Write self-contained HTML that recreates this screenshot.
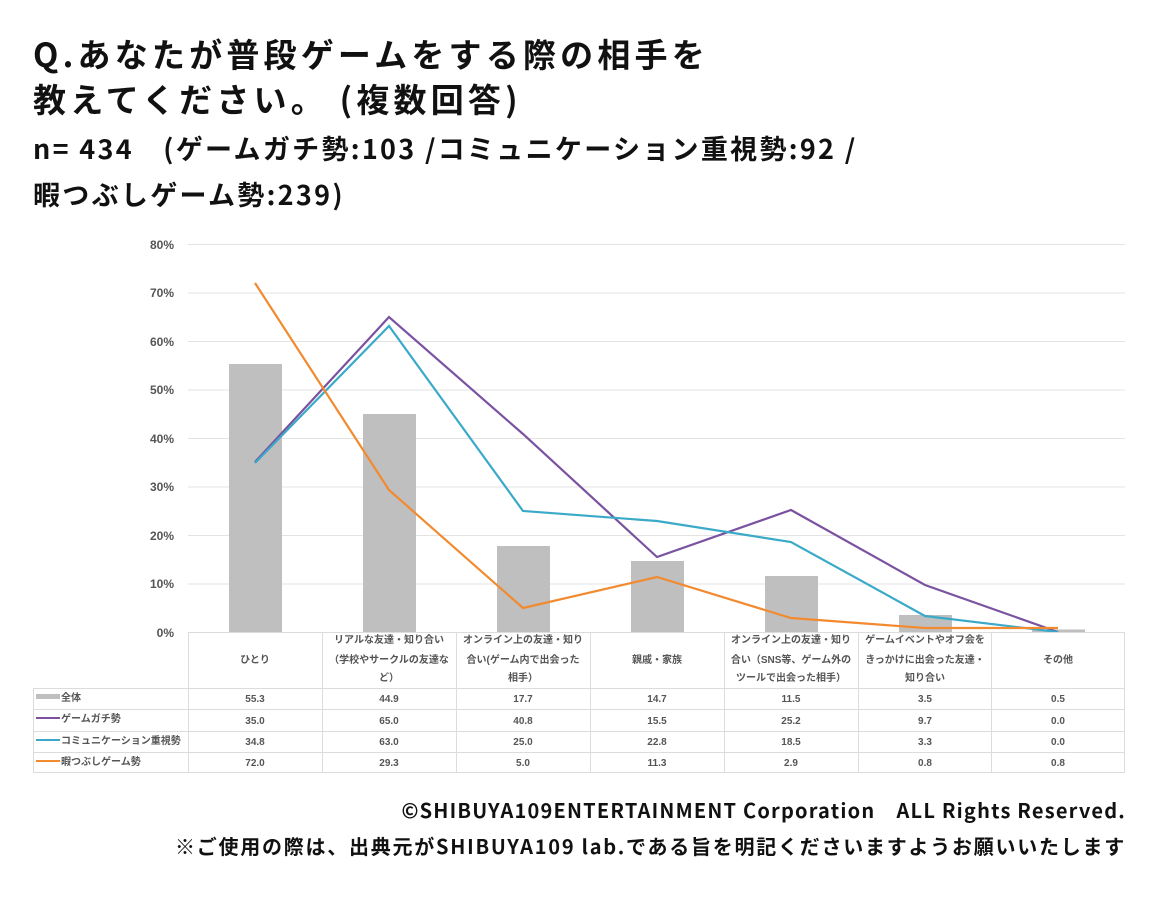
<!DOCTYPE html><html><head><meta charset="utf-8"><style>
body{margin:0;width:1160px;height:900px;background:#fff;font-family:"Noto Sans CJK JP","Liberation Sans",sans-serif;position:relative;overflow:hidden}
.t{position:absolute;left:33px;font-weight:bold;color:#111;white-space:nowrap}
</style></head><body>
<div class="t" style="top:31px;font-size:33px;line-height:45px;letter-spacing:4.2px">Q.あなたが普段ゲームをする際の相手を<br>教えてください。 (複数回答)</div>
<div class="t" style="top:125px;font-size:27px;line-height:46px;letter-spacing:2.3px">n= 434　(ゲームガチ勢:103 /コミュニケーション重視勢:92 /<br>暇つぶしゲーム勢:239)</div>
<svg width="1160" height="900" style="position:absolute;left:0;top:0" font-family="Liberation Sans, Noto Sans CJK JP, sans-serif">
<g stroke="#e3e3e3" stroke-width="1">
<line x1="188" x2="1125" y1="244.5" y2="244.5"/><line x1="188" x2="1125" y1="293" y2="293"/><line x1="188" x2="1125" y1="341.5" y2="341.5"/><line x1="188" x2="1125" y1="390" y2="390"/><line x1="188" x2="1125" y1="438.5" y2="438.5"/><line x1="188" x2="1125" y1="487" y2="487"/><line x1="188" x2="1125" y1="535.5" y2="535.5"/><line x1="188" x2="1125" y1="584" y2="584"/>
</g>
<g font-size="12" font-weight="bold" fill="#555" text-anchor="end">
<text x="174" y="249">80%</text><text x="174" y="297">70%</text><text x="174" y="346">60%</text><text x="174" y="394">50%</text><text x="174" y="443">40%</text><text x="174" y="491">30%</text><text x="174" y="540">20%</text><text x="174" y="588">10%</text><text x="174" y="637">0%</text>
</g>
<g fill="#bfbfbf">
<rect x="229" y="364" width="53" height="268"/><rect x="363" y="414" width="53" height="218"/><rect x="497" y="546" width="53" height="86"/><rect x="631" y="561" width="53" height="71"/><rect x="765" y="576" width="53" height="56"/><rect x="899" y="615" width="53" height="17"/><rect x="1032" y="629.5" width="53" height="2.5"/>
</g>
<g fill="none" stroke-width="2.2">
<polyline stroke="#7a52a0" points="255,462 389,317 523,434 657,557 791,510 925,585 1058,632"/>
<polyline stroke="#3aaac8" points="255,463 389,326 523,511 657,521 791,542 925,616 1058,632"/>
<polyline stroke="#f28a30" points="255,283 389,490 523,608 657,577 791,618 925,628 1058,628"/>
</g>
<g stroke="#dcdcdc" stroke-width="1" fill="none">
<line x1="188" x2="1125" y1="632.5" y2="632.5"/>
<line x1="33" x2="1125" y1="688.5" y2="688.5"/><line x1="33" x2="1125" y1="709.5" y2="709.5"/><line x1="33" x2="1125" y1="731.5" y2="731.5"/><line x1="33" x2="1125" y1="752.5" y2="752.5"/><line x1="33" x2="1125" y1="772.5" y2="772.5"/>
<line x1="33.5" x2="33.5" y1="688" y2="772"/>
<line x1="188.5" x2="188.5" y1="632" y2="772"/><line x1="322.5" x2="322.5" y1="632" y2="772"/><line x1="456.5" x2="456.5" y1="632" y2="772"/><line x1="590.5" x2="590.5" y1="632" y2="772"/><line x1="724.5" x2="724.5" y1="632" y2="772"/><line x1="858.5" x2="858.5" y1="632" y2="772"/><line x1="991.5" x2="991.5" y1="632" y2="772"/><line x1="1124.5" x2="1124.5" y1="632" y2="772"/>
</g>
<g font-size="10" font-weight="bold" fill="#555" text-anchor="middle">
<text x="255" y="663">ひとり</text>
<text x="389" y="643">リアルな友達・知り合い</text><text x="389" y="663">（学校やサークルの友達な</text><text x="389" y="681">ど）</text>
<text x="523" y="643">オンライン上の友達・知り</text><text x="523" y="663">合い(ゲーム内で出会った</text><text x="523" y="681">相手）</text>
<text x="657" y="663">親戚・家族</text>
<text x="791" y="643">オンライン上の友達・知り</text><text x="791" y="663">合い（SNS等、ゲーム外の</text><text x="791" y="681">ツールで出会った相手）</text>
<text x="925" y="643">ゲームイベントやオフ会を</text><text x="925" y="663">きっかけに出会った友達・</text><text x="925" y="681">知り合い</text>
<text x="1058" y="663">その他</text>
</g>
<g font-size="10" font-weight="bold" fill="#555" text-anchor="middle">
<text y="702"><tspan x="255">55.3</tspan><tspan x="389">44.9</tspan><tspan x="523">17.7</tspan><tspan x="657">14.7</tspan><tspan x="791">11.5</tspan><tspan x="925">3.5</tspan><tspan x="1058">0.5</tspan></text>
<text y="724"><tspan x="255">35.0</tspan><tspan x="389">65.0</tspan><tspan x="523">40.8</tspan><tspan x="657">15.5</tspan><tspan x="791">25.2</tspan><tspan x="925">9.7</tspan><tspan x="1058">0.0</tspan></text>
<text y="745"><tspan x="255">34.8</tspan><tspan x="389">63.0</tspan><tspan x="523">25.0</tspan><tspan x="657">22.8</tspan><tspan x="791">18.5</tspan><tspan x="925">3.3</tspan><tspan x="1058">0.0</tspan></text>
<text y="766"><tspan x="255">72.0</tspan><tspan x="389">29.3</tspan><tspan x="523">5.0</tspan><tspan x="657">11.3</tspan><tspan x="791">2.9</tspan><tspan x="925">0.8</tspan><tspan x="1058">0.8</tspan></text>
</g>
<rect x="36" y="694" width="24" height="5" fill="#bfbfbf"/>
<line x1="36" x2="60" y1="718" y2="718" stroke="#7a52a0" stroke-width="2"/>
<line x1="36" x2="60" y1="740" y2="740" stroke="#3aaac8" stroke-width="2"/>
<line x1="36" x2="60" y1="761" y2="761" stroke="#f28a30" stroke-width="2"/>
<g font-size="10" font-weight="bold" fill="#555">
<text x="61" y="701">全体</text><text x="61" y="722">ゲームガチ勢</text><text x="61" y="744">コミュニケーション重視勢</text><text x="61" y="765">暇つぶしゲーム勢</text>
</g>
<g font-size="20" font-weight="bold" fill="#111" text-anchor="end" font-family="Noto Sans CJK JP, Liberation Sans, sans-serif">
<text x="1126" y="818" letter-spacing="1.2">©SHIBUYA109ENTERTAINMENT Corporation　ALL Rights Reserved.</text>
<text x="1126" y="854" letter-spacing="1.75">※ご使用の際は、出典元がSHIBUYA109 lab.である旨を明記くださいますようお願いいたします</text>
</g>
</svg>
</body></html>
